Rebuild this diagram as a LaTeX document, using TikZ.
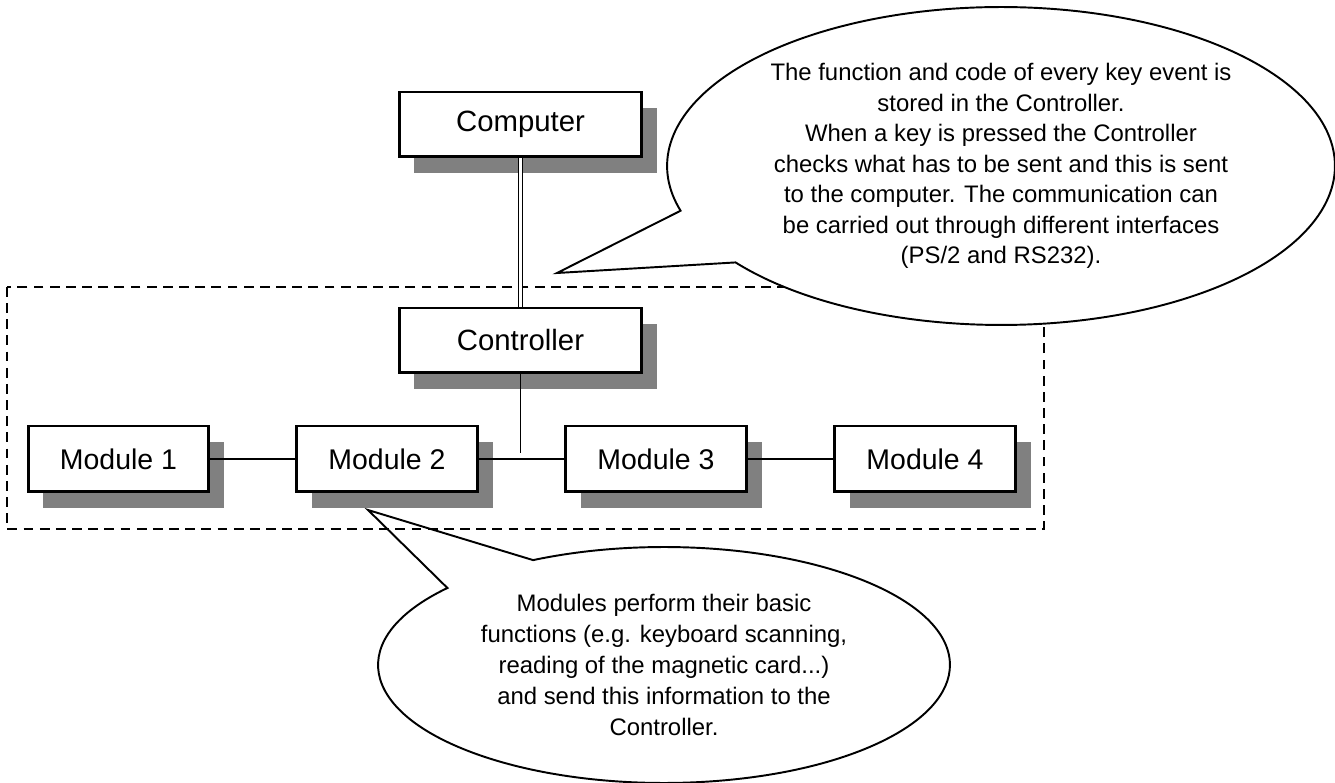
\documentclass[tikz,border=0pt]{standalone}
\usepackage{fontspec}
\setmainfont{Liberation Sans}
\usetikzlibrary{shapes.callouts,shadows}

\begin{document}
\begin{tikzpicture}[x=0.02cm,y=-0.02cm,
  box/.style={draw, line width=1.7pt, fill=white, minimum width=4.86cm, minimum height=1.3cm,
    font=\fontsize{16.7}{18}\selectfont,
    general shadow={fill=black!50, shadow xshift=8.8pt, shadow yshift=-9pt}},
  module/.style={box, minimum width=3.62cm, minimum height=1.32cm, font=\fontsize{16.2}{18}\selectfont},
  link/.style={line width=.85pt},
  note/.style={ellipse callout, draw, line width=1.1pt, fill=white, inner sep=0pt, align=center,
    font=\fontsize{13.6}{17.4}\selectfont}]

\useasboundingbox (0,0) rectangle (1335,783);

\coordinate (ptop) at (557,273);
\coordinate (pbot) at (368,510);
\coordinate (tee) at (520.5,453);

\node[note, minimum width=11.44cm, minimum height=4.72cm, callout absolute pointer={(pbot)}, callout pointer arc=22,
  font=\fontsize{13.6}{17.7}\selectfont]
  (bnote) at (664,665) {Modules perform their basic\\ functions (e.g. keyboard scanning,\\ reading of the magnetic card...)\\ and send this information to the\\ Controller.};

\draw[line width=1.25pt, dash pattern=on 5.6pt off 3.6pt] (7,287) rectangle (1044,529);

\node[box] (computer) at (520.5,124.5) {Computer};
\node[box] (ctrl) at (520.5,340.5) {Controller};

\node[module] (m1) at (118.5,459) {Module 1};
\node[module] (m2) at (387,459) {Module 2};
\node[module] (m3) at (656,459) {Module 3};
\node[module] (m4) at (925,459) {Module 4};

\draw[double, line width=.9pt, double distance=1.5pt] (computer) -- (ctrl);
\draw[link] (ctrl) -- (tee);
\draw[link] (m1) -- (m2);
\draw[link] (m2) -- (m3);
\draw[link] (m3) -- (m4);

\node[note, minimum width=13.36cm, minimum height=6.36cm, callout absolute pointer={(ptop)}, callout pointer arc=21]
  (tnote) at (1001,166) {The function and code of every key event is\\ stored in the Controller.\\ When a key is pressed the Controller\\ checks what has to be sent and this is sent\\ to the computer. The communication can\\ be carried out through different interfaces\\ (PS/2 and RS232).};

\end{tikzpicture}
\end{document}
